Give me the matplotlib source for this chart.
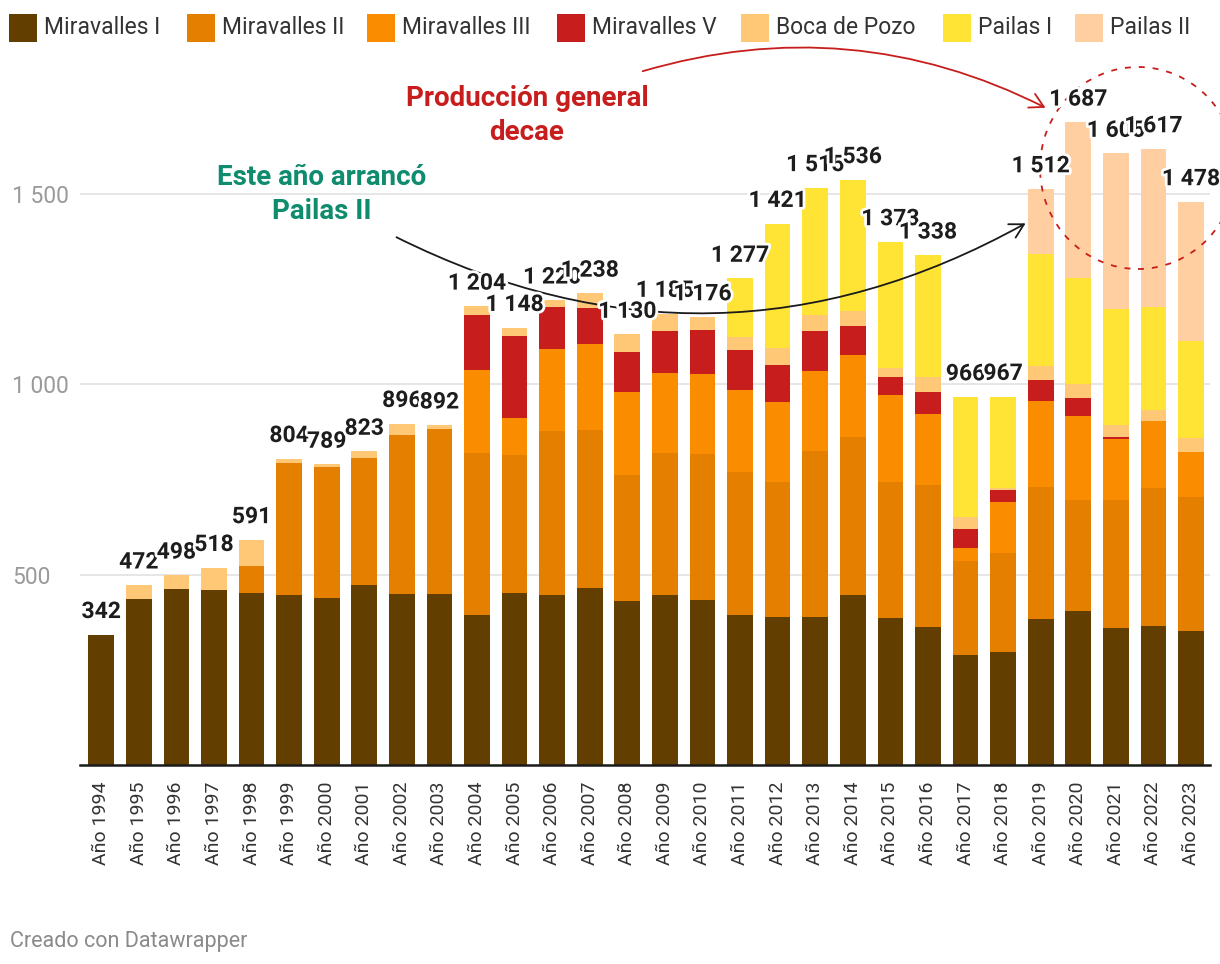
import matplotlib
matplotlib.use("Agg")
import matplotlib.pyplot as plt
import matplotlib.patheffects as pe
from matplotlib.patches import Rectangle, Ellipse, FancyArrowPatch
import numpy as np

plt.rcParams['font.family'] = ['Roboto', 'DejaVu Sans']

# ------------------------------------------------------------------
# data (GWh per plant and year)

years = list(range(1994, 2024))

series_names = ['Miravalles I', 'Miravalles II', 'Miravalles III', 'Miravalles V',
                'Boca de Pozo', 'Pailas I', 'Pailas II']

miravalles_1 = [342, 435, 461, 459, 451, 446, 438, 472, 448, 448,
                393, 451, 446, 464, 430, 446, 432, 393, 388, 388,
                445, 385, 362, 290, 297, 382, 403, 359, 364, 353]
miravalles_2 = [0, 0, 0, 0, 71, 346, 343, 333, 417, 435,
                427, 362, 430, 414, 330, 372, 383, 375, 356, 435,
                417, 358, 373, 246, 259, 348, 293, 337, 362, 351]
miravalles_3 = [0, 0, 0, 0, 0, 0, 0, 0, 0, 0,
                218, 99, 217, 228, 220, 212, 212, 215, 210, 212,
                213, 227, 187, 33, 133, 225, 219, 160, 176, 117]
miravalles_5 = [0, 0, 0, 0, 0, 0, 0, 0, 0, 0,
                144, 215, 110, 94, 105, 110, 116, 105, 97, 103,
                77, 48, 57, 50, 32, 55, 47, 4, 0, 0]
boca_pozo = [0, 37, 37, 59, 69, 12, 8, 18, 31, 9,
             22, 21, 17, 38, 45, 45, 33, 36, 43, 42,
             39, 24, 39, 33, 6, 37, 38, 32, 30, 38]
pailas_1 = [0, 0, 0, 0, 0, 0, 0, 0, 0, 0,
            0, 0, 0, 0, 0, 0, 0, 153, 327, 335,
            345, 331, 320, 314, 240, 294, 279, 306, 271, 254]
pailas_2 = [0, 0, 0, 0, 0, 0, 0, 0, 0, 0,
            0, 0, 0, 0, 0, 0, 0, 0, 0, 0,
            0, 0, 0, 0, 0, 171, 408, 407, 414, 365]

colors = ['#623f00', '#e57f00', '#fa8c00', '#c71e1d', '#ffc877', '#ffe335', '#ffcfa1']

y_ticks = [500, 1000, 1500]

# ------------------------------------------------------------------

W, H = 1220, 964


def px(x, y):
    # pixel position (from top left) -> figure fraction
    return x / W, 1 - y / H


def fmt(v):
    return f"{v:,}".replace(",", " ")


fig = plt.figure(figsize=(W / 100, H / 100), dpi=100)
ax = fig.add_axes([80 / W, (H - 765) / H, 1130 / W, (765 - 60) / H])

all_series = [miravalles_1, miravalles_2, miravalles_3, miravalles_5,
              boca_pozo, pailas_1, pailas_2]

x = np.arange(len(years))
bottom = np.zeros(len(years))
for vals, col in zip(all_series, colors):
    vals = np.array(vals)
    ax.bar(x, vals, width=0.684, bottom=bottom, color=col, linewidth=0, zorder=2)
    bottom += vals

totals = bottom.astype(int)

ax.set_xlim(-0.564, len(years) - 1 + 0.506)
ax.set_ylim(0, 705 / 0.381)

for s in ['top', 'right', 'left']:
    ax.spines[s].set_visible(False)
ax.spines['bottom'].set_color('#1a1a1a')
ax.spines['bottom'].set_linewidth(1.8)
ax.spines['bottom'].set_zorder(4)

ax.set_yticks(y_ticks)
ax.tick_params(axis='y', length=0, labelleft=False)
ax.yaxis.grid(True, color='#e2e2e2', linewidth=1.2)
ax.set_axisbelow(True)

ax.set_xticks(x)
ax.set_xticklabels([f"Año {y}" for y in years], rotation=90, fontsize=14, color='#333333')
ax.tick_params(axis='x', length=0, pad=12)

# y labels, left aligned at the figure edge
for v in y_ticks:
    ax.annotate(fmt(v), xy=(12 / W, v), xycoords=('figure fraction', 'data'),
                xytext=(0, -6.5), textcoords='offset points',
                ha='left', va='baseline', fontsize=16.5, color='#9a9a9a')

# totals on top of the bars
for i, t in enumerate(totals):
    ax.annotate(fmt(t), xy=(i, t), xytext=(0, 12), textcoords='offset points',
                ha='center', va='baseline', fontsize=16.5, fontweight='bold',
                color='#1d1d1d', zorder=6, annotation_clip=False,
                path_effects=[pe.withStroke(linewidth=4, foreground='white')])

# arrows and circle
black_arrow = FancyArrowPatch(px(394, 236), px(1028, 222), transform=fig.transFigure,
                              connectionstyle='arc3,rad=0.265',
                              arrowstyle='->,head_length=0.45,head_width=0.25',
                              mutation_scale=22, color='#1a1a1a', lw=1.3,
                              zorder=5, clip_on=False)
ax.add_artist(black_arrow)

red_arrow = FancyArrowPatch(px(640, 72), px(1048, 109), transform=fig.transFigure,
                            connectionstyle='arc3,rad=-0.2',
                            arrowstyle='->,head_length=0.45,head_width=0.25',
                            mutation_scale=22, color='#c71e1d', lw=1.3,
                            zorder=5, clip_on=False)
ax.add_artist(red_arrow)

circle = Ellipse(px(1138, 168), 196 / W, 202 / H, transform=fig.transFigure,
                 fill=False, edgecolor='#c71e1d', lw=1.3, ls=(0, (3.3, 4.4)),
                 zorder=5, clip_on=False)
ax.add_artist(circle)

# annotation texts
red = '#c71e1d'
teal = '#0e8c6d'
fig.text(*px(527, 106.5), 'Producción general', ha='center', va='baseline',
         fontsize=20, fontweight='bold', color=red)
fig.text(*px(527, 139.5), 'decae', ha='center', va='baseline',
         fontsize=20, fontweight='bold', color=red)
fig.text(*px(322, 185), 'Este año arrancó', ha='center', va='baseline',
         fontsize=20, fontweight='bold', color=teal)
fig.text(*px(322, 219), 'Pailas II', ha='center', va='baseline',
         fontsize=20, fontweight='bold', color=teal)

# legend
legend_x = [9, 187, 367, 557, 741, 943, 1075]
for lx, name, col in zip(legend_x, series_names, colors):
    fx, fy = px(lx, 42)
    fig.add_artist(Rectangle((fx, fy), 28 / W, 28 / H, transform=fig.transFigure,
                             facecolor=col, edgecolor='none'))
    fig.text(*px(lx + 35, 34.3), name, ha='left', va='baseline',
             fontsize=16.5, color='#333333')

fig.text(*px(10, 947), 'Creado con Datawrapper', ha='left', va='baseline',
         fontsize=15.5, color='#8a8a8a')

fig.savefig('out.png', dpi=100)
